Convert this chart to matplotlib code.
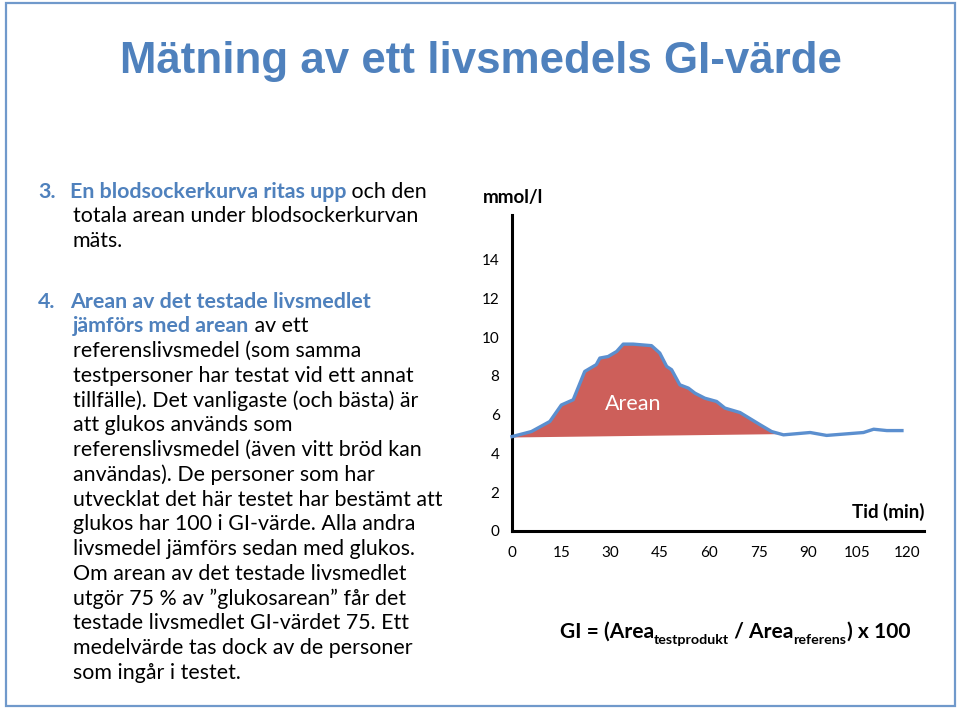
import matplotlib
matplotlib.use("Agg")
import matplotlib.pyplot as plt
from matplotlib.patches import Rectangle
import numpy as np

W, H = 960, 711
BLUE = "#4f81bd"
BODY_FONT = ["Lato", "DejaVu Sans"]

# ---- data ----
time_min = [0, 5.9, 11.5, 15, 18.6, 22.1, 25.6, 26.7, 29.2, 31.8, 33.8, 36.8, 42.4,
            44.9, 47.0, 48.5, 51, 53.6, 55.6, 58.6, 62.2, 64.7, 69.3, 75.4, 78.9,
            82.5, 90.6, 95.6, 106.8, 109.9, 113.9, 118.5]
glucose = [4.87, 5.13, 5.65, 6.5, 6.77, 8.23, 8.58, 8.92, 9.0, 9.26, 9.64, 9.64, 9.56,
           9.18, 8.49, 8.32, 7.54, 7.37, 7.11, 6.85, 6.68, 6.34, 6.11, 5.48, 5.13,
           4.96, 5.08, 4.93, 5.08, 5.25, 5.18, 5.18]
base_x = [0, 80]
base_y = [4.85, 5.02]
x_ticks = [0, 15, 30, 45, 60, 75, 90, 105, 120]
y_ticks = [0, 2, 4, 6, 8, 10, 12, 14]

title = "Mätning av ett livsmedels GI-värde"

# each line: (number label or None, [(text, color, bold), ...])
item3 = [
    ("3.", [("En blodsockerkurva ritas upp", BLUE, True), (" och den", "black", False)]),
    (None, [("totala arean under blodsockerkurvan", "black", False)]),
    (None, [("mäts.", "black", False)]),
]
item4 = [
    ("4.", [("Arean av det testade livsmedlet", BLUE, True)]),
    (None, [("jämförs med arean", BLUE, True), (" av ett", "black", False)]),
    (None, [("referenslivsmedel (som samma", "black", False)]),
    (None, [("testpersoner har testat vid ett annat", "black", False)]),
    (None, [("tillfälle). Det vanligaste (och bästa) är", "black", False)]),
    (None, [("att glukos används som", "black", False)]),
    (None, [("referenslivsmedel (även vitt bröd kan", "black", False)]),
    (None, [("användas). De personer som har", "black", False)]),
    (None, [("utvecklat det här testet har bestämt att", "black", False)]),
    (None, [("glukos har 100 i GI-värde. Alla andra", "black", False)]),
    (None, [("livsmedel jämförs sedan med glukos.", "black", False)]),
    (None, [("Om arean av det testade livsmedlet", "black", False)]),
    (None, [("utgör 75 % av ”glukosarean” får det", "black", False)]),
    (None, [("testade livsmedlet GI-värdet 75. Ett", "black", False)]),
    (None, [("medelvärde tas dock av de personer", "black", False)]),
    (None, [("som ingår i testet.", "black", False)]),
]

fig = plt.figure(figsize=(W / 100, H / 100), dpi=100)
fig.patch.set_facecolor("white")
renderer = fig.canvas.get_renderer()


def fx(px):
    return px / W


def fy(py):
    return 1 - py / H


# slide border
fig.add_artist(Rectangle((fx(6), fy(706)), fx(955) - fx(6), fy(3) - fy(706),
                         transform=fig.transFigure, fill=False,
                         edgecolor="#7099cb", lw=1.6))

# title
fig.text(fx(481), fy(73), title, ha="center", va="baseline", color=BLUE,
         fontsize=31.6, fontweight="bold", family=["Liberation Sans", "DejaVu Sans"])


def draw_segments(x_px, base_px, segs, size):
    x = x_px
    for text, color, bold in segs:
        t = fig.text(fx(x), fy(base_px), text, ha="left", va="baseline",
                     color=color, fontsize=size,
                     fontweight="bold" if bold else "normal", family=BODY_FONT)
        bb = t.get_window_extent(renderer)
        x = bb.x1
    return x


BODY_SIZE = 15.4
STEP = 24.75


def draw_item(lines, first_center):
    for i, (num, segs) in enumerate(lines):
        base = first_center + i * STEP + 6
        if num:
            draw_segments(38, base, [(num, BLUE, True)], BODY_SIZE)
            draw_segments(70, base, segs, BODY_SIZE)
        else:
            draw_segments(73, base, segs, BODY_SIZE)


draw_item(item3, 191.7)
draw_item(item4, 301.7)

# ---- chart ----
ax = fig.add_axes([fx(512), fy(531), fx(924) - fx(512), fy(215) - fy(531)])
ax.set_xlim(0, 125.2)
ax.set_ylim(0, 16.3)
for s in ["top", "right"]:
    ax.spines[s].set_visible(False)
for s in ["left", "bottom"]:
    ax.spines[s].set_linewidth(2.2)
    ax.spines[s].set_color("black")
ax.set_xticks(x_ticks)
ax.set_yticks(y_ticks)
ax.tick_params(length=0, labelsize=11, pad=9)
ax.tick_params(axis="x", pad=11)
for lab in ax.get_xticklabels() + ax.get_yticklabels():
    lab.set_family(BODY_FONT)

xa = np.array(time_min)
ya = np.array(glucose)
base = np.interp(xa, base_x, base_y)
ax.fill_between(xa, ya, base, where=(ya >= base) & (xa <= 81), interpolate=True,
                color="#cd5f5a", lw=0, zorder=2)
ax.plot(xa, ya, color="#5b8fcf", lw=2.4, solid_joinstyle="round", zorder=3,
        clip_on=False)
ax.text(36.8, 6.55, "Arean", color="white", fontsize=15.5, ha="center", va="center",
        family=BODY_FONT, zorder=4)

fig.text(fx(483), fy(197), "mmol/l", ha="left", va="center", fontsize=13.5,
         fontweight="bold", family=BODY_FONT)
fig.text(fx(925), fy(512), "Tid (min)", ha="right", va="center", fontsize=13.5,
         fontweight="bold", family=BODY_FONT)

# formula
FS = 15.1
x = 560
fbase = 638
for text, sub in [("GI = (Area", False), ("testprodukt", True), (" / Area", False),
                  ("referens", True), (") x 100", False)]:
    t = fig.text(fx(x), fy(fbase + (6 if sub else 0)), text, ha="left", va="baseline",
                 fontsize=FS * (0.68 if sub else 1.0), fontweight="bold",
                 family=BODY_FONT)
    x = t.get_window_extent(renderer).x1

fig.savefig("out.png", dpi=100, facecolor="white")
